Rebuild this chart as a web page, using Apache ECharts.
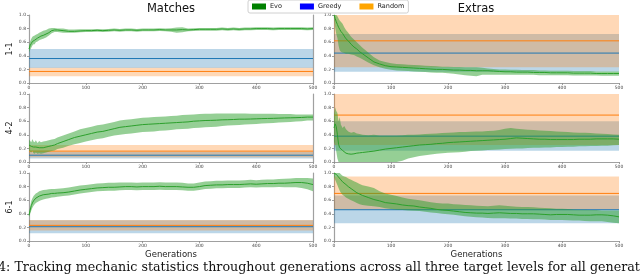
<!DOCTYPE html>
<html><head><meta charset="utf-8">
<script src="https://cdn.jsdelivr.net/npm/echarts@6/dist/echarts.min.js"></script>
<style>html,body{margin:0;padding:0;background:#fff}#c{width:640px;height:275px}</style>
</head><body><div id="c"></div>
<script>
// Generations sampled
const gens = [0,2,4,6,8,10,12,15,18,21,25,30,35,40,45,50,
  60,70,80,90,100,
  110,120,130,140,150,160,170,180,190,200,
  210,220,230,240,250,260,270,280,290,300,
  310,320,330,340,350,360,370,380,390,400,
  410,420,430,440,450,460,470,480,490,500];

// ---- 1-1 Matches (Evo)
const m11Mean = [0.50,0.55,0.58,0.61,0.62,0.63,0.65,0.66,0.68,0.69,0.70,0.72,0.74,0.77,0.78,0.78,
  0.77,0.76,0.76,0.765,0.77,
  0.77,0.775,0.77,0.775,0.78,0.775,0.78,0.78,0.775,0.78,
  0.78,0.78,0.785,0.78,0.78,0.78,0.785,0.78,0.785,0.79,
  0.79,0.79,0.79,0.795,0.79,0.795,0.79,0.795,0.795,0.80,
  0.80,0.80,0.795,0.80,0.80,0.80,0.80,0.80,0.795,0.80];
const m11Lo = [0.45,0.49,0.52,0.55,0.57,0.57,0.60,0.61,0.63,0.64,0.65,0.67,0.70,0.73,0.75,0.75,
  0.74,0.74,0.74,0.745,0.75,
  0.75,0.755,0.75,0.755,0.76,0.755,0.76,0.76,0.755,0.76,
  0.76,0.76,0.765,0.76,0.755,0.74,0.745,0.76,0.765,0.77,
  0.77,0.77,0.77,0.775,0.77,0.775,0.77,0.775,0.775,0.78,
  0.78,0.78,0.775,0.78,0.78,0.78,0.78,0.78,0.775,0.78];
const m11Hi = [0.55,0.61,0.65,0.68,0.69,0.70,0.71,0.72,0.74,0.75,0.77,0.78,0.80,0.81,0.81,0.80,
  0.80,0.785,0.785,0.79,0.79,
  0.79,0.795,0.79,0.795,0.80,0.795,0.80,0.80,0.795,0.80,
  0.80,0.80,0.805,0.80,0.805,0.815,0.82,0.80,0.805,0.81,
  0.81,0.81,0.81,0.815,0.81,0.815,0.81,0.815,0.815,0.82,
  0.82,0.82,0.815,0.82,0.82,0.82,0.82,0.82,0.815,0.82];

// ---- 1-1 Extras (Evo)
const e11Mean = [1.00,0.95,0.90,0.86,0.82,0.79,0.76,0.73,0.69,0.65,0.62,0.57,0.53,0.50,0.46,0.43,
  0.37,0.31,0.28,0.255,0.24,
  0.235,0.23,0.225,0.22,0.215,0.21,0.205,0.20,0.20,0.195,
  0.19,0.19,0.185,0.185,0.18,0.18,0.18,0.175,0.17,0.165,
  0.165,0.16,0.16,0.16,0.155,0.155,0.155,0.15,0.15,0.15,
  0.15,0.145,0.145,0.145,0.145,0.14,0.14,0.14,0.14,0.14];
const e11Lo = [0.97,0.82,0.72,0.66,0.55,0.48,0.46,0.45,0.44,0.43,0.43,0.42,0.41,0.39,0.37,0.35,
  0.30,0.26,0.23,0.21,0.195,
  0.185,0.18,0.175,0.17,0.165,0.16,0.155,0.15,0.15,0.145,
  0.135,0.125,0.115,0.105,0.10,0.12,0.12,0.12,0.12,0.12,
  0.12,0.12,0.12,0.12,0.12,0.115,0.115,0.115,0.115,0.115,
  0.115,0.11,0.11,0.11,0.11,0.11,0.105,0.105,0.105,0.105];
const e11Hi = [1.00,1.00,1.00,0.98,0.95,0.92,0.90,0.87,0.82,0.78,0.74,0.68,0.64,0.60,0.56,0.52,
  0.45,0.38,0.33,0.31,0.29,
  0.28,0.275,0.27,0.265,0.26,0.255,0.25,0.245,0.24,0.24,
  0.235,0.235,0.23,0.23,0.23,0.225,0.215,0.205,0.20,0.20,
  0.195,0.195,0.19,0.19,0.19,0.185,0.185,0.18,0.18,0.18,
  0.18,0.175,0.175,0.175,0.175,0.17,0.17,0.17,0.17,0.17];

// ---- 4-2 Matches (Evo)
const m42Mean = [0.25,0.24,0.23,0.25,0.22,0.21,0.22,0.20,0.21,0.20,0.21,0.22,0.23,0.24,0.25,0.27,
  0.30,0.33,0.36,0.38,0.40,
  0.42,0.44,0.45,0.47,0.49,0.51,0.52,0.53,0.54,0.55,
  0.555,0.56,0.565,0.57,0.575,0.58,0.585,0.59,0.60,0.605,
  0.61,0.612,0.615,0.62,0.622,0.625,0.63,0.63,0.632,0.635,
  0.638,0.64,0.642,0.645,0.648,0.65,0.652,0.655,0.66,0.66];
const m42Lo = [0.17,0.15,0.14,0.16,0.13,0.12,0.14,0.12,0.13,0.12,0.13,0.14,0.15,0.16,0.17,0.19,
  0.21,0.24,0.26,0.28,0.30,
  0.32,0.34,0.35,0.37,0.39,0.40,0.41,0.42,0.43,0.44,
  0.445,0.45,0.46,0.465,0.47,0.48,0.485,0.49,0.50,0.505,
  0.51,0.515,0.52,0.53,0.535,0.54,0.545,0.55,0.555,0.56,
  0.565,0.57,0.575,0.58,0.585,0.59,0.595,0.60,0.61,0.61];
const m42Hi = [0.33,0.31,0.29,0.34,0.30,0.29,0.32,0.28,0.31,0.29,0.30,0.31,0.32,0.33,0.34,0.36,
  0.39,0.42,0.45,0.48,0.50,
  0.52,0.54,0.55,0.57,0.59,0.61,0.62,0.63,0.64,0.65,
  0.655,0.66,0.665,0.67,0.675,0.68,0.69,0.695,0.70,0.705,
  0.71,0.71,0.712,0.715,0.715,0.715,0.712,0.712,0.71,0.71,
  0.71,0.71,0.708,0.705,0.705,0.705,0.70,0.70,0.70,0.70];

// ---- 4-2 Extras (Evo)
const e42Mean = [0.50,0.56,0.52,0.40,0.26,0.21,0.19,0.17,0.15,0.13,0.12,0.115,0.12,0.13,0.135,0.14,
  0.15,0.16,0.175,0.19,0.20,
  0.21,0.22,0.23,0.24,0.25,0.255,0.26,0.27,0.275,0.285,
  0.29,0.295,0.30,0.305,0.31,0.315,0.32,0.325,0.33,0.335,
  0.345,0.355,0.35,0.345,0.34,0.335,0.335,0.33,0.33,0.33,
  0.33,0.33,0.335,0.335,0.335,0.34,0.34,0.34,0.34,0.335];
const e42Lo = [0.30,0.25,0.15,0.05,0,0,0,0,0,0,0,0,0,0,0,0,
  0,0,0,0,0,
  0,0.02,0.05,0.07,0.09,0.10,0.11,0.12,0.13,0.135,
  0.14,0.145,0.15,0.16,0.165,0.17,0.175,0.18,0.185,0.19,
  0.195,0.20,0.20,0.205,0.21,0.21,0.215,0.215,0.22,0.22,
  0.225,0.225,0.23,0.23,0.235,0.235,0.24,0.24,0.245,0.25];
const e42Hi = [0.70,0.80,0.75,0.72,0.60,0.66,0.55,0.50,0.53,0.48,0.45,0.43,0.44,0.42,0.41,0.40,
  0.395,0.40,0.39,0.39,0.39,
  0.39,0.395,0.40,0.40,0.405,0.41,0.415,0.42,0.425,0.43,
  0.435,0.44,0.44,0.445,0.45,0.45,0.455,0.46,0.47,0.49,
  0.50,0.49,0.48,0.475,0.47,0.465,0.46,0.455,0.45,0.445,
  0.44,0.435,0.43,0.43,0.425,0.42,0.415,0.41,0.405,0.40];

// ---- 6-1 Matches (Evo)
const m61Mean = [0.38,0.45,0.52,0.56,0.59,0.61,0.63,0.645,0.66,0.67,0.68,0.685,0.69,0.70,0.70,0.705,
  0.71,0.72,0.735,0.75,0.76,
  0.77,0.78,0.785,0.79,0.79,0.795,0.80,0.80,0.795,0.80,
  0.80,0.80,0.805,0.80,0.80,0.80,0.795,0.79,0.79,0.80,
  0.815,0.82,0.825,0.825,0.83,0.83,0.83,0.835,0.84,0.835,
  0.84,0.845,0.845,0.85,0.85,0.855,0.86,0.86,0.85,0.83];
const m61Lo = [0.35,0.40,0.45,0.49,0.52,0.54,0.56,0.575,0.59,0.60,0.61,0.62,0.63,0.64,0.645,0.65,
  0.66,0.67,0.685,0.70,0.71,
  0.72,0.73,0.735,0.74,0.74,0.745,0.75,0.75,0.745,0.75,
  0.75,0.75,0.755,0.75,0.75,0.75,0.745,0.74,0.74,0.75,
  0.765,0.77,0.775,0.775,0.78,0.78,0.78,0.785,0.79,0.785,
  0.79,0.79,0.79,0.795,0.79,0.79,0.79,0.78,0.76,0.73];
const m61Hi = [0.42,0.50,0.59,0.63,0.66,0.68,0.70,0.715,0.73,0.74,0.75,0.755,0.76,0.765,0.765,0.77,
  0.775,0.785,0.80,0.815,0.825,
  0.835,0.845,0.85,0.855,0.855,0.86,0.86,0.86,0.855,0.86,
  0.86,0.86,0.865,0.86,0.86,0.86,0.855,0.845,0.845,0.86,
  0.875,0.88,0.885,0.885,0.89,0.89,0.89,0.895,0.90,0.895,
  0.90,0.905,0.905,0.91,0.915,0.92,0.925,0.925,0.925,0.92];

// ---- 6-1 Extras (Evo)
const e61Mean = [1.00,0.99,0.98,0.96,0.94,0.92,0.90,0.87,0.85,0.83,0.80,0.77,0.74,0.71,0.69,0.67,
  0.64,0.61,0.59,0.565,0.555,
  0.545,0.53,0.52,0.515,0.50,0.49,0.48,0.465,0.455,0.45,
  0.44,0.43,0.42,0.415,0.41,0.41,0.405,0.41,0.415,0.41,
  0.405,0.405,0.40,0.40,0.40,0.395,0.39,0.385,0.39,0.39,
  0.39,0.385,0.38,0.38,0.38,0.385,0.385,0.38,0.37,0.355];
const e61Lo = [0.95,0.90,0.86,0.82,0.78,0.74,0.71,0.68,0.66,0.64,0.62,0.60,0.58,0.56,0.54,0.53,
  0.52,0.51,0.50,0.48,0.47,
  0.46,0.455,0.45,0.445,0.44,0.43,0.42,0.41,0.40,0.395,
  0.385,0.375,0.365,0.355,0.35,0.345,0.34,0.335,0.335,0.335,
  0.33,0.33,0.325,0.325,0.32,0.32,0.315,0.31,0.31,0.31,
  0.305,0.30,0.30,0.295,0.29,0.29,0.29,0.28,0.27,0.26];
const e61Hi = [1.00,1.00,1.00,1.00,1.00,1.00,0.98,0.96,0.95,0.94,0.92,0.90,0.88,0.86,0.84,0.82,
  0.80,0.78,0.73,0.70,0.68,
  0.66,0.64,0.62,0.61,0.60,0.585,0.57,0.56,0.55,0.55,
  0.54,0.535,0.53,0.525,0.52,0.515,0.51,0.52,0.525,0.52,
  0.51,0.505,0.50,0.50,0.495,0.49,0.485,0.48,0.475,0.475,
  0.47,0.465,0.46,0.46,0.455,0.455,0.45,0.45,0.45,0.45];

// Constant baselines, panel order: 1-1 M, 1-1 E, 4-2 M, 4-2 E, 6-1 M, 6-1 E
const baseGens = [0, 500];
const greedyMean = [0.36, 0.44, 0.10, 0.38, 0.21, 0.46];
const greedyLo   = [0.22, 0.165, 0.05, 0.165, 0.115, 0.26];
const greedyHi   = [0.50, 0.72, 0.15, 0.60, 0.305, 0.67];
const randomMean = [0.17, 0.62, 0.16, 0.69, 0.23, 0.70];
const randomLo   = [0.10, 0.23, 0.07, 0.25, 0.155, 0.46];
const randomHi   = [0.225, 1.00, 0.25, 1.00, 0.31, 0.95];

const levels = ['1-1', '4-2', '6-1'];
const xTicks = [0, 100, 200, 300, 400, 500];

const evo = [
  [m11Mean, m11Lo, m11Hi], [e11Mean, e11Lo, e11Hi],
  [m42Mean, m42Lo, m42Hi], [e42Mean, e42Lo, e42Hi],
  [m61Mean, m61Lo, m61Hi], [e61Mean, e61Lo, e61Hi]
];

const C = {
  evo: '#2ca02c', evoBand: 'rgba(44,160,44,0.5)',
  greedy: '#1f77b4', greedyBand: 'rgba(31,119,180,0.3)',
  random: '#ff7f0e', randomBand: 'rgba(255,127,14,0.3)'
};

const grids = [], xAxes = [], yAxes = [], series = [];
const tops = [15, 94, 173];
for (let p = 0; p < 6; p++) {
  const row = Math.floor(p / 2), col = p % 2;
  grids.push({left: col ? 334 : 29, top: tops[row], width: col ? 285 : 284, height: 68, containLabel: false});
  xAxes.push({
    type: 'value', gridIndex: p, min: xTicks[0], max: xTicks[xTicks.length - 1], interval: 100,
    axisLine: {show: true, onZero: false, lineStyle: {color: '#a0a0a0', width: 1.2}},
    axisTick: {show: true, length: 2, lineStyle: {color: '#888', width: 0.8}},
    axisLabel: {fontSize: 4.5, color: '#444', margin: 2, fontFamily: 'DejaVu Sans'},
    splitLine: {show: false},
    name: row === 2 ? 'Generations' : '', nameLocation: 'middle', nameGap: 9,
    nameTextStyle: {fontSize: 8.5, color: '#222', fontFamily: 'DejaVu Sans'}
  });
  yAxes.push({
    type: 'value', gridIndex: p, min: 0, max: 1, interval: 0.2,
    axisLine: {show: true, lineStyle: {color: '#a0a0a0', width: 1.2}},
    axisTick: {show: true, length: 2, lineStyle: {color: '#888', width: 0.8}},
    axisLabel: {fontSize: 4.5, color: '#444', margin: 3, fontFamily: 'DejaVu Sans', formatter: v => v.toFixed(1)},
    splitLine: {show: false},
    name: col === 0 ? levels[row] : '', nameLocation: 'middle', nameRotate: 90, nameGap: 15,
    nameTextStyle: {fontSize: 8, color: '#222', fontFamily: 'DejaVu Sans'}
  });
}
// right spines for left panels
[0, 2, 4].forEach(p => {
  yAxes.push({type: 'value', gridIndex: p, position: 'right', min: 0, max: 1,
    axisLine: {show: true, lineStyle: {color: '#a0a0a0', width: 1.2}},
    axisTick: {show: false}, axisLabel: {show: false}, splitLine: {show: false}});
});

// Filled band between lo and hi, drawn through the axis scales (api.coord)
function band(p, xs, lo, hi, color, z) {
  const n = Math.min(xs.length, lo.length, hi.length);
  const data = [];
  for (let i = 0; i < n; i++) data.push([xs[i], lo[i], hi[i]]);
  return {
    type: 'custom', xAxisIndex: p, yAxisIndex: p, data: data, z: z, silent: true, clip: true,
    animation: false, encode: {x: 0, y: [1, 2]},
    renderItem: function (params, api) {
      if (params.dataIndexInside !== 0) return null;
      const top = [], bot = [];
      for (let i = 0; i < n; i++) {
        const x = api.value(0, i);
        top.push(api.coord([x, api.value(2, i)]));
        bot.push(api.coord([x, api.value(1, i)]));
      }
      return {type: 'polygon', shape: {points: top.concat(bot.reverse())}, style: {fill: color}};
    }
  };
}
function line(p, name, xs, ys, color, z) {
  const n = Math.min(xs.length, ys.length);
  const d = [];
  for (let i = 0; i < n; i++) d.push([xs[i], ys[i]]);
  return {type: 'line', name: name, xAxisIndex: p, yAxisIndex: p, data: d, symbol: 'none', silent: true,
    itemStyle: {color: color}, lineStyle: {color: color, width: 1}, z: z, animation: false};
}

for (let p = 0; p < 6; p++) {
  series.push(band(p, baseGens, [greedyLo[p], greedyLo[p]], [greedyHi[p], greedyHi[p]], C.greedyBand, 2));
  series.push(band(p, baseGens, [randomLo[p], randomLo[p]], [randomHi[p], randomHi[p]], C.randomBand, 2));
  series.push(line(p, 'Greedy', baseGens, [greedyMean[p], greedyMean[p]], C.greedy, 3));
  series.push(line(p, 'Random', baseGens, [randomMean[p], randomMean[p]], C.random, 3));
  series.push(band(p, gens, evo[p][1], evo[p][2], C.evoBand, 4));
  series.push(line(p, 'Evo', gens, evo[p][0], C.evo, 5));
}

const chart = echarts.init(document.getElementById('c'), null, {renderer: 'canvas'});
chart.setOption({
  backgroundColor: '#fff',
  animation: false,
  grid: grids, xAxis: xAxes, yAxis: yAxes, series: series,
  legend: {
    left: 248, top: 0, padding: [3, 4, 3, 4], itemGap: 18, itemWidth: 14, itemHeight: 6,
    icon: 'rect', selectedMode: false,
    borderColor: '#d0d0d0', borderWidth: 1, borderRadius: 2, backgroundColor: '#fff',
    textStyle: {fontSize: 6.5, color: '#222', fontFamily: 'DejaVu Sans', padding: [0, 0, 0, -1]},
    data: [
      {name: 'Evo', itemStyle: {color: '#008000', borderWidth: 0}},
      {name: 'Greedy', itemStyle: {color: '#0000ff', borderWidth: 0}},
      {name: 'Random', itemStyle: {color: '#ffa500', borderWidth: 0}}
    ]
  },
  graphic: [
    {type: 'text', x: 171, y: 9, style: {text: 'Matches', font: '11.5px "DejaVu Sans"', fill: '#111', align: 'center', verticalAlign: 'middle'}},
    {type: 'text', x: 476, y: 9, style: {text: 'Extras', font: '11.5px "DejaVu Sans"', fill: '#111', align: 'center', verticalAlign: 'middle'}},
    {type: 'text', x: -2, y: 268, style: {text: '4: Tracking mechanic statistics throughout generations across all three target levels for all generations', font: '12.7px "DejaVu Serif"', fill: '#111', align: 'left', verticalAlign: 'middle'}}
  ]
});
</script></body></html>
